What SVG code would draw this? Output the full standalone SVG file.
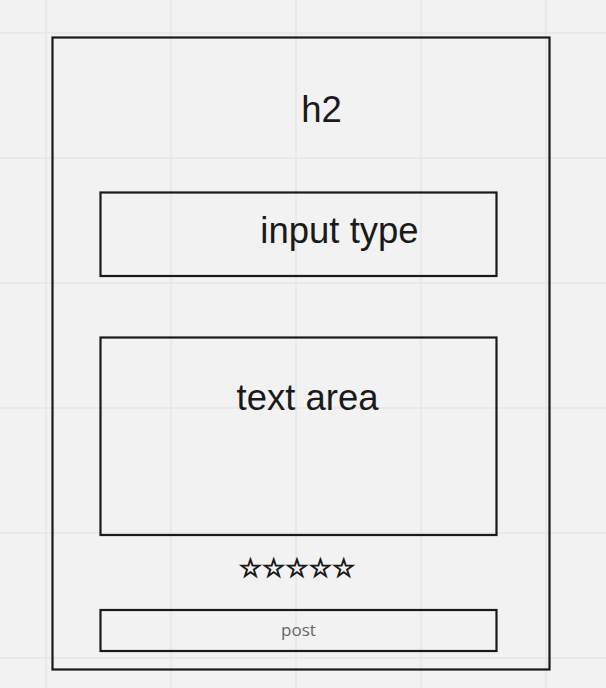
<svg xmlns="http://www.w3.org/2000/svg" width="606" height="688" viewBox="0 0 606 688">
<defs>
<style>
.grid{stroke:#e6e6e6;stroke-width:1.5}
.box{fill:none;stroke:#1a1a1a;stroke-width:2.2}
.big{font-family:"Liberation Sans",Arial,sans-serif;font-size:36.5px;fill:#1a1a1a;text-anchor:middle}
.small{font-family:"Open Sans","Noto Sans",sans-serif;font-size:17px;fill:#666;text-anchor:middle}
.stars{font-family:"DejaVu Sans",sans-serif;font-size:26px;fill:#1a1a1a;stroke:#1a1a1a;stroke-width:1.1;text-anchor:middle}
</style>
</defs>
<rect width="606" height="688" fill="#f2f2f2"/>
<g id="grid">
<line class="grid" x1="46" y1="0" x2="46" y2="688"/>
<line class="grid" x1="171" y1="0" x2="171" y2="688"/>
<line class="grid" x1="296" y1="0" x2="296" y2="688"/>
<line class="grid" x1="421" y1="0" x2="421" y2="688"/>
<line class="grid" x1="546" y1="0" x2="546" y2="688"/>
<line class="grid" x1="0" y1="33" x2="606" y2="33"/>
<line class="grid" x1="0" y1="158" x2="606" y2="158"/>
<line class="grid" x1="0" y1="283" x2="606" y2="283"/>
<line class="grid" x1="0" y1="408" x2="606" y2="408"/>
<line class="grid" x1="0" y1="533" x2="606" y2="533"/>
<line class="grid" x1="0" y1="658" x2="606" y2="658"/>
</g>
<g id="card">
<rect class="box" x="52.5" y="37.5" width="497" height="632"/>
</g>
<g id="h2">
<text class="big" x="321.5" y="122">h2</text>
</g>
<g id="input-type">
<rect class="box" x="100.5" y="192.5" width="396" height="83.5"/>
<text class="big" x="339.5" y="243">input type</text>
</g>
<g id="text-area">
<rect class="box" x="100.5" y="337.5" width="396" height="197.5"/>
<text class="big" x="307.5" y="410">text area</text>
</g>
<g id="rating">
<text class="stars" x="297" y="577">☆☆☆☆☆</text>
</g>
<g id="post">
<rect class="box" x="100.5" y="610" width="396" height="41"/>
<text class="small" x="298.5" y="636">post</text>
</g>
<g id="connectors"/>
</svg>
